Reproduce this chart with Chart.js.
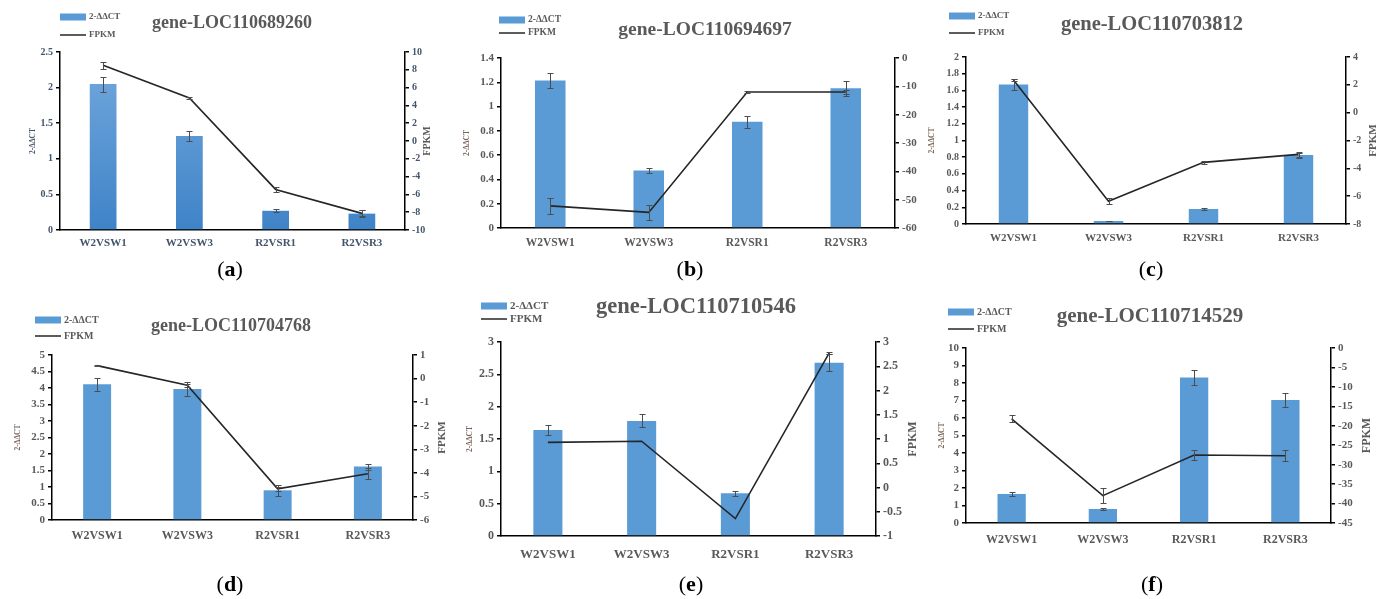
<!DOCTYPE html>
<html>
<head>
<meta charset="utf-8">
<script src="https://cdn.jsdelivr.net/npm/chart.js@4.4.0/dist/chart.umd.min.js"></script>
<style>
  html, body { margin: 0; padding: 0; background: #fff; }
  #wrap { position: relative; width: 1384px; height: 599px; overflow: hidden; }
  #wrap canvas { position: absolute; }
</style>
</head>
<body>
<div id="wrap"></div>
<script>
// categories / titles
const categories = ['W2VSW1', 'W2VSW3', 'R2VSR1', 'R2VSR3'];
const genes = ['gene-LOC110689260', 'gene-LOC110694697', 'gene-LOC110703812',
               'gene-LOC110704768', 'gene-LOC110710546', 'gene-LOC110714529'];
const panelLetters = ['a', 'b', 'c', 'd', 'e', 'f'];

// 2-ΔΔCT bars and their error bars
const ddctA = [2.05, 1.32, 0.27, 0.23];
const ddctErrA = [0.105, 0.072, 0.02, 0.044];
const ddctB = [1.215, 0.474, 0.876, 1.15];
const ddctErrB = [0.06, 0.02, 0.05, 0.06];
const ddctC = [1.67, 0.036, 0.18, 0.826];
const ddctErrC = [0.065, 0.004, 0.01, 0.03];
const ddctD = [4.11, 3.97, 0.9, 1.62];
const ddctErrD = [0.2, 0.21, 0.17, 0.09];
const ddctE = [1.64, 1.78, 0.66, 2.68];
const ddctErrE = [0.08, 0.1, 0.036, 0.13];
const ddctF = [1.66, 0.8, 8.32, 7.03];
const ddctErrF = [0.1, 0.05, 0.41, 0.38];

// FPKM lines and their error bars
const fpkmA = [8.5, 4.84, -5.44, -8.13];
const fpkmErrA = [0.37, 0.13, 0.24, 0.34];
const fpkmB = [-52.2, -54.5, -12.0, -12.0];
const fpkmErrB = [2.8, 2.7, 0.3, 0.6];
const fpkmC = [2.34, -6.36, -3.57, -3.0];
const fpkmErrC = [0.1, 0.2, 0.1, 0.15];
const fpkmD = [0.55, -0.28, -4.68, -4.04];
const fpkmErrD = [0.02, 0.06, 0.1, 0.23];
const fpkmE = [0.93, 0.955, -0.64, 2.77];
const fpkmErrE = [0, 0, 0, 0.02];
const fpkmF = [-18.2, -37.96, -27.5, -27.7];
const fpkmErrF = [0.9, 1.93, 1.37, 1.37];

// axis ranges
const leftMax = [2.5, 1.4, 2, 5, 3, 10];
const leftStep = [0.5, 0.2, 0.2, 0.5, 0.5, 1];
const rightMin = [-10, -60, -8, -6, -1, -45];
const rightMax = [10, 0, 4, 1, 3, 0];
const rightStep = [2, 10, 2, 1, 0.5, 5];

const ddctAll = [ddctA, ddctB, ddctC, ddctD, ddctE, ddctF];
const ddctErrAll = [ddctErrA, ddctErrB, ddctErrC, ddctErrD, ddctErrE, ddctErrF];
const fpkmAll = [fpkmA, fpkmB, fpkmC, fpkmD, fpkmE, fpkmF];
const fpkmErrAll = [fpkmErrA, fpkmErrB, fpkmErrC, fpkmErrD, fpkmErrE, fpkmErrF];

// page placement of each panel (canvas box, plot area, decorations)
const layouts = [
  {x: 0, y: 0, w: 460, h: 290, l: 60, t: 52, r: 405, b: 230, lt: 33, rt: 427,
   title: [232, 23, 18], legend: [60, 17, 35, 9], label: [230, 270], tick: 10, xTick: 11, xPad: 7, fpkmSize: 10},
  {x: 460, y: 0, w: 460, h: 290, l: 501, t: 58, r: 895, b: 228, lt: 467, rt: null,
   title: [705, 30, 19.5], legend: [499, 20, 33, 9.5], label: [690, 270], tick: 11, xTick: 11.5, xPad: 8, fpkmSize: 10},
  {x: 920, y: 0, w: 464, h: 290, l: 966, t: 57, r: 1346, b: 224, lt: 932, rt: 1373,
   title: [1152, 25, 20.5], legend: [949, 16, 33, 9], label: [1151, 270], tick: 10, xTick: 11, xPad: 8, fpkmSize: 11},
  {x: 0, y: 295, w: 460, h: 304, l: 52, t: 355, r: 413, b: 520, lt: 18, rt: 442,
   title: [231, 326, 18], legend: [35, 320, 336, 10], label: [230, 585], tick: 11, xTick: 12, xPad: 9, fpkmSize: 11},
  {x: 460, y: 295, w: 460, h: 304, l: 501, t: 342, r: 876, b: 536, lt: 470, rt: 913,
   title: [696, 307, 22.5], legend: [481, 306, 319, 11], label: [691, 585], tick: 12, xTick: 13, xPad: 11, fpkmSize: 12},
  {x: 920, y: 295, w: 464, h: 304, l: 966, t: 348, r: 1331, b: 523, lt: 942, rt: 1367,
   title: [1150, 317, 21], legend: [948, 312, 329, 10], label: [1152, 585], tick: 11, xTick: 12, xPad: 10, fpkmSize: 12}
];

const SERIF = '"Liberation Serif", "DejaVu Serif", serif';
const BAR_BLUE = '#5B9BD5';

// error bars for any dataset that carries an "errors" array
const errorBars = {
  id: 'errorBars',
  afterDatasetsDraw(chart) {
    const ctx = chart.ctx;
    chart.data.datasets.forEach((ds, i) => {
      if (!ds.errors) return;
      const meta = chart.getDatasetMeta(i);
      const scale = chart.scales[ds.yAxisID];
      ctx.save();
      ctx.strokeStyle = '#4d4d4d';
      ctx.lineWidth = 1;
      meta.data.forEach((el, j) => {
        const e = ds.errors[j];
        if (!e) return;
        const yTop = Math.round(scale.getPixelForValue(ds.data[j] + e)) + 0.5;
        const yBot = Math.round(scale.getPixelForValue(ds.data[j] - e)) + 0.5;
        const x = Math.round(el.x) + 0.5;
        ctx.beginPath();
        ctx.moveTo(x, yTop); ctx.lineTo(x, yBot);
        ctx.moveTo(x - 3, yTop); ctx.lineTo(x + 3, yTop);
        ctx.moveTo(x - 3, yBot); ctx.lineTo(x + 3, yBot);
        ctx.stroke();
      });
      ctx.restore();
    });
  }
};

// gene title, legend, axis titles and panel letter
const panelDecor = {
  id: 'panelDecor',
  afterDraw(chart, args, opts) {
    const ctx = chart.ctx;
    const L = opts.layout;
    const ox = L.x, oy = L.y;
    const area = chart.chartArea;
    const midY = (area.top + area.bottom) / 2;
    ctx.save();

    // title
    ctx.fillStyle = '#595959';
    ctx.font = `bold ${L.title[2]}px ${SERIF}`;
    ctx.textAlign = 'center';
    ctx.textBaseline = 'middle';
    ctx.fillText(opts.gene, L.title[0] - ox, L.title[1] - oy);

    // legend
    const lx = L.legend[0] - ox;
    const y1 = L.legend[1] - oy, y2 = L.legend[2] - oy;
    ctx.fillStyle = BAR_BLUE;
    ctx.fillRect(lx, y1 - 3.5, 26, 7);
    ctx.strokeStyle = '#262626';
    ctx.lineWidth = 1.5;
    ctx.beginPath();
    ctx.moveTo(lx, y2); ctx.lineTo(lx + 26, y2);
    ctx.stroke();
    ctx.fillStyle = '#595959';
    ctx.font = `bold ${L.legend[3]}px ${SERIF}`;
    ctx.textAlign = 'left';
    ctx.fillText('2-ΔΔCT', lx + 29, y1);
    ctx.fillText('FPKM', lx + 29, y2);

    // left axis title
    ctx.save();
    ctx.translate(L.lt - ox, midY);
    ctx.rotate(-Math.PI / 2);
    ctx.textAlign = 'center';
    ctx.fillStyle = opts.index === 0 ? '#44546A' : '#7a6459';
    ctx.font = `bold 7.5px ${SERIF}`;
    ctx.fillText('2-ΔΔCT', 0, 0);
    ctx.restore();

    // right axis title
    if (L.rt !== null) {
      ctx.save();
      ctx.translate(L.rt - ox, midY);
      ctx.rotate(-Math.PI / 2);
      ctx.textAlign = 'center';
      ctx.fillStyle = '#595959';
      ctx.font = `bold ${L.fpkmSize}px ${SERIF}`;
      ctx.fillText('FPKM', 0, 0);
      ctx.restore();
    }

    // panel letter "(x)"
    const pf = `22px ${SERIF}`, bf = `bold 22px ${SERIF}`;
    ctx.fillStyle = '#000';
    ctx.font = pf;
    const wp = ctx.measureText('(').width, wq = ctx.measureText(')').width;
    ctx.font = bf;
    const wl = ctx.measureText(opts.letter).width;
    let px = L.label[0] - ox - (wp + wl + wq) / 2;
    const py = L.label[1] - oy;
    ctx.textAlign = 'left';
    ctx.font = pf; ctx.fillText('(', px, py); px += wp;
    ctx.font = bf; ctx.fillText(opts.letter, px, py); px += wl;
    ctx.font = pf; ctx.fillText(')', px, py);

    ctx.restore();
  }
};

function barFill(i) {
  if (i !== 0) return BAR_BLUE;
  // panel (a) uses a light-to-dark gradient fill
  return (c) => {
    const area = c.chart.chartArea;
    if (!area) return BAR_BLUE;
    const g = c.chart.ctx.createLinearGradient(0, area.top, 0, area.bottom);
    g.addColorStop(0, '#74a9de');
    g.addColorStop(1, '#3f83c7');
    return g;
  };
}

// plain number labels: 2 not 2.0
const tickText = (v) => String(Number(v.toFixed(3)));

const wrap = document.getElementById('wrap');

layouts.forEach((L, i) => {
  const canvas = document.createElement('canvas');
  canvas.width = L.w;
  canvas.height = L.h;
  canvas.style.left = L.x + 'px';
  canvas.style.top = L.y + 'px';
  canvas.style.width = L.w + 'px';
  canvas.style.height = L.h + 'px';
  wrap.appendChild(canvas);

  const tickColor = i === 0 ? '#44546A' : '#595959';
  const leftW = L.l - L.x;
  const rightW = L.x + L.w - L.r;
  const xH = L.y + L.h - L.b;

  new Chart(canvas, {
    type: 'bar',
    data: {
      labels: categories,
      datasets: [
        {
          type: 'line',
          label: 'FPKM',
          data: fpkmAll[i],
          errors: fpkmErrAll[i],
          yAxisID: 'y1',
          borderColor: '#262626',
          borderWidth: 1.6,
          pointRadius: 0,
          tension: 0,
          order: 0
        },
        {
          label: '2-ΔΔCT',
          data: ddctAll[i],
          errors: ddctErrAll[i],
          yAxisID: 'y',
          backgroundColor: barFill(i),
          borderWidth: 0,
          categoryPercentage: 1,
          barPercentage: 0.31,
          order: 1
        }
      ]
    },
    options: {
      responsive: false,
      animation: false,
      layout: { padding: { top: L.t - L.y, left: 0, right: 0, bottom: 0 } },
      plugins: {
        legend: { display: false },
        tooltip: { enabled: false },
        panelDecor: { layout: L, gene: genes[i], letter: panelLetters[i], index: i }
      },
      scales: {
        x: {
          grid: { display: false, drawTicks: false },
          border: { color: '#000', width: 1.5 },
          ticks: {
            color: tickColor,
            padding: L.xPad,
            maxRotation: 0,
            font: { family: SERIF, size: L.xTick, weight: 'bold' }
          },
          afterFit: (s) => { s.height = xH; }
        },
        y: {
          position: 'left',
          min: 0,
          max: leftMax[i],
          grid: { drawOnChartArea: false, drawTicks: true, tickLength: 4, color: '#000', lineWidth: 1.5 },
          border: { color: '#000', width: 1.5 },
          ticks: {
            stepSize: leftStep[i],
            color: tickColor,
            padding: 3,
            callback: tickText,
            font: { family: SERIF, size: L.tick, weight: 'bold' }
          },
          afterFit: (s) => { s.width = leftW; }
        },
        y1: {
          position: 'right',
          min: rightMin[i],
          max: rightMax[i],
          grid: { drawOnChartArea: false, drawTicks: true, tickLength: 4, color: '#000', lineWidth: 1.5 },
          border: { color: '#000', width: 1.5 },
          ticks: {
            stepSize: rightStep[i],
            color: tickColor,
            padding: 3,
            callback: tickText,
            font: { family: SERIF, size: L.tick, weight: 'bold' }
          },
          afterFit: (s) => { s.width = rightW; }
        }
      }
    },
    plugins: [errorBars, panelDecor]
  });
});
</script>
</body>
</html>
